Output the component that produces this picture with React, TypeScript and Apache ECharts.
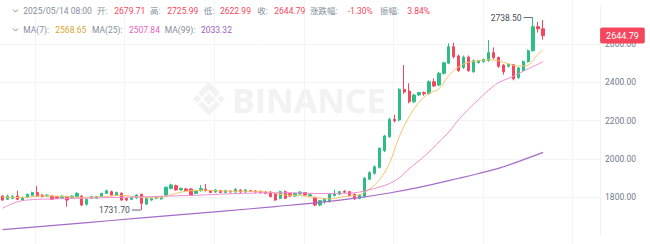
import React, { useEffect, useRef } from "react";
import * as echarts from "echarts";

// ---- Data (4h candles, ETH/USDT) ----
const opens = [
  1805, 1788, 1793, 1805, 1784, 1798, 1809, 1823, 1810, 1805,
  1805, 1802, 1795, 1802, 1797, 1802, 1805, 1762, 1793, 1793,
  1802, 1819, 1828, 1810, 1819, 1793, 1788, 1795, 1814, 1763,
  1784, 1793, 1790, 1810, 1845, 1859, 1837, 1842, 1842, 1819,
  1833, 1842, 1833, 1826, 1833, 1824, 1830, 1826, 1837, 1826,
  1833, 1831, 1830, 1826, 1826, 1816, 1793, 1828, 1819, 1805,
  1816, 1823, 1805, 1798, 1758, 1775, 1778, 1808, 1815, 1830,
  1828, 1814, 1793, 1802, 1893, 1924, 1955, 2042, 2115, 2206,
  2203, 2363, 2354, 2298, 2334, 2346, 2342, 2403, 2386, 2447,
  2500, 2586, 2538, 2478, 2531, 2455, 2503, 2508, 2513, 2555,
  2530, 2490, 2484, 2492, 2425, 2462, 2508, 2566, 2691, 2679.71,
];
const closes = [
  1784, 1805, 1802, 1788, 1798, 1814, 1823, 1805, 1802, 1810,
  1788, 1793, 1805, 1784, 1805, 1819, 1758, 1788, 1802, 1802,
  1819, 1833, 1810, 1823, 1784, 1784, 1795, 1810, 1767, 1793,
  1793, 1802, 1802, 1851, 1863, 1837, 1845, 1833, 1810, 1833,
  1845, 1833, 1824, 1837, 1824, 1833, 1826, 1840, 1826, 1837,
  1830, 1826, 1823, 1819, 1802, 1784, 1828, 1793, 1805, 1819,
  1826, 1810, 1812, 1758, 1781, 1788, 1815, 1815, 1828, 1825,
  1807, 1790, 1810, 1898, 1927, 1958, 2055, 2119, 2206, 2199,
  2363, 2349, 2298, 2333, 2346, 2340, 2403, 2381, 2447, 2502,
  2586, 2534, 2461, 2531, 2461, 2513, 2513, 2520, 2555, 2530,
  2484, 2455, 2492, 2418, 2475, 2508, 2565, 2691, 2679.71, 2644.79,
];
const lows = [
  1780, 1785, 1790, 1784, 1780, 1795, 1805, 1800, 1798, 1800,
  1784, 1790, 1792, 1749, 1793, 1798, 1752, 1755, 1790, 1790,
  1798, 1815, 1806, 1806, 1780, 1778, 1784, 1790, 1731.7, 1758,
  1780, 1788, 1786, 1806, 1840, 1833, 1833, 1828, 1806, 1815,
  1828, 1828, 1820, 1822, 1820, 1820, 1822, 1822, 1822, 1822,
  1826, 1822, 1819, 1815, 1798, 1780, 1788, 1790, 1800, 1800,
  1812, 1806, 1800, 1752, 1752, 1765, 1770, 1802, 1810, 1820,
  1803, 1785, 1788, 1798, 1888, 1918, 1950, 2035, 2110, 2190,
  2195, 2340, 2290, 2292, 2328, 2330, 2335, 2375, 2378, 2440,
  2495, 2525, 2455, 2470, 2455, 2450, 2498, 2503, 2508, 2520,
  2475, 2440, 2478, 2410, 2418, 2455, 2503, 2560, 2660, 2622.99,
];
const highs = [
  1810, 1812, 1810, 1833, 1802, 1818, 1828, 1858, 1815, 1815,
  1810, 1806, 1809, 1806, 1808, 1825, 1810, 1792, 1806, 1805,
  1822, 1838, 1833, 1828, 1825, 1797, 1800, 1814, 1818, 1797,
  1797, 1806, 1805, 1855, 1870, 1865, 1850, 1848, 1846, 1838,
  1863, 1868, 1838, 1842, 1838, 1838, 1835, 1846, 1840, 1842,
  1838, 1836, 1833, 1830, 1830, 1820, 1833, 1835, 1823, 1823,
  1830, 1826, 1816, 1802, 1785, 1795, 1820, 1838, 1832, 1835,
  1832, 1818, 1815, 1905, 1935, 1965, 2060, 2125, 2215, 2230,
  2370, 2490, 2395, 2340, 2350, 2352, 2410, 2420, 2455, 2508,
  2604, 2607, 2545, 2540, 2540, 2520, 2518, 2525, 2621, 2583,
  2535, 2495, 2498, 2496, 2480, 2515, 2572, 2738.5, 2717, 2725.99,
];

// moving averages: [candle index, value]
const ma7Points = [
  [0, 1800], [4, 1797], [8, 1806], [12, 1803], [16, 1798], [20, 1801], [24, 1808],
  [28, 1798], [31, 1795], [34, 1812], [37, 1830], [41, 1835], [45, 1831], [50, 1830],
  [54, 1824], [57, 1810], [60, 1807], [63, 1798], [66, 1790], [69, 1803], [72, 1812],
  [74, 1842], [76, 1890], [78, 1975], [80, 2115], [82, 2220], [84, 2295], [86, 2342],
  [88, 2366], [90, 2435], [92, 2482], [94, 2505], [96, 2513], [98, 2518], [100, 2512],
  [102, 2497], [104, 2485], [105, 2486], [106, 2490], [107, 2515], [108, 2547], [109, 2568.65],
];
const ma25Points = [
  [0, 1741], [3, 1775], [6, 1786], [10, 1790], [15, 1793], [20, 1796], [25, 1799],
  [30, 1802], [35, 1806], [40, 1810], [45, 1816], [50, 1820], [55, 1822], [60, 1821],
  [64, 1818], [68, 1819], [71, 1822], [74, 1838], [76, 1852], [78, 1870], [80, 1900],
  [82, 1948], [84, 1990], [86, 2035], [88, 2088], [90, 2140], [92, 2205], [94, 2260],
  [96, 2310], [98, 2358], [100, 2398], [102, 2420], [104, 2445], [106, 2470], [108, 2495],
  [109, 2507.84],
];
const ma99Points = [
  [0, 1629], [11, 1653], [22, 1677], [33, 1701], [44, 1725], [55, 1750], [64, 1772],
  [72, 1797], [78, 1821], [84, 1850], [88, 1874], [92, 1898], [96, 1923], [100, 1950],
  [104, 1985], [109, 2033.32],
];

const yTicks = [1600, 1800, 2000, 2200, 2400, 2600, 2800];

const GREEN = "#2ebd85";
const RED = "#f6465d";
const GRAY = "#848e9c";
const FONT = "Roboto, 'Noto Sans CJK SC', sans-serif";

const SLOTS = 121;
const pad = (n: number) => String(n).padStart(2, "0");
const categories: string[] = [];
{
  const base = Date.UTC(2025, 3, 26, 4, 0);
  for (let i = 0; i < SLOTS; i++) {
    const d = new Date(base + i * 4 * 3600 * 1000);
    categories.push(
      `${d.getUTCFullYear()}/${pad(d.getUTCMonth() + 1)}/${pad(d.getUTCDate())} ${pad(d.getUTCHours())}:${pad(d.getUTCMinutes())}`
    );
  }
}

export default function App() {
  const ref = useRef<HTMLDivElement>(null);

  useEffect(() => {
    if (!ref.current) return;
    const chart = echarts.init(ref.current, null, { renderer: "svg" });

    const last = closes.length - 1;
    const prevClose = closes[last - 1];
    const chg = ((closes[last] - prevClose) / prevClose) * 100;
    const amp = ((highs[last] - lows[last]) / prevClose) * 100;
    const lastOf = (pts: number[][]) => pts[pts.length - 1][1].toFixed(2);

    const header1: [string, number, string][] = [
      [categories[last], 23.3, GRAY],
      ["开:", 97, GRAY],
      [opens[last].toFixed(2), 114.3, RED],
      ["高:", 150, GRAY],
      [highs[last].toFixed(2), 167.3, RED],
      ["低:", 203.7, GRAY],
      [lows[last].toFixed(2), 220, RED],
      ["收:", 257.3, GRAY],
      [closes[last].toFixed(2), 274.3, RED],
      ["涨跌幅:", 310, GRAY],
      [chg.toFixed(2) + "%", 347.7, chg < 0 ? RED : GREEN],
      ["振幅:", 380, GRAY],
      [amp.toFixed(2) + "%", 407.3, RED],
    ];
    const header2: [string, number, string][] = [
      ["MA(7):", 23.3, GRAY],
      [lastOf(ma7Points), 55.3, "#d9a534"],
      ["MA(25):", 92, GRAY],
      [lastOf(ma25Points), 129, "#ea5fbd"],
      ["MA(99):", 164.7, GRAY],
      [lastOf(ma99Points), 201, "#9b5fc0"],
    ];
    const mkText = (arr: [string, number, string][], y: number) =>
      arr.map(([t, x, c]) => ({
        type: "text",
        x,
        y,
        z: 10,
        style: { text: t, fill: c, fontSize: 8.5, fontFamily: FONT, verticalAlign: "middle" },
      }));

    const WM = "#f2f2f2";
    const watermark = [
      { type: "polygon", shape: { points: [[209, 93], [215, 99], [209, 105], [203, 99]] }, style: { fill: WM } },
      { type: "polygon", shape: { points: [[197, 95], [201, 99], [197, 103], [193, 99]] }, style: { fill: WM } },
      { type: "polygon", shape: { points: [[221, 95], [225, 99], [221, 103], [217, 99]] }, style: { fill: WM } },
      { type: "polygon", shape: { points: [[209, 82], [220, 93], [216, 97], [209, 90], [202, 97], [198, 93]] }, style: { fill: WM } },
      { type: "polygon", shape: { points: [[209, 116], [220, 105], [216, 101], [209, 108], [202, 101], [198, 105]] }, style: { fill: WM } },
      {
        type: "text",
        x: 232,
        y: 100,
        style: { text: "BINANCE", fill: WM, fontSize: 34, fontWeight: 700, fontFamily: "'Open Sans', sans-serif", verticalAlign: "middle" },
      },
    ];

    const splitColors = yTicks.map((v, i) => (i === 0 || i === yTicks.length - 1 ? "rgba(0,0,0,0)" : "#f3f4f6"));

    const option: any = {
      animation: false,
      grid: [
        { left: -2.49, top: 5.83, width: 602.58, height: 229.4 },
        { left: 0, top: 0, width: 597.6, height: 244 },
      ],
      xAxis: [
        {
          type: "category",
          gridIndex: 0,
          data: categories,
          boundaryGap: true,
          axisLine: { show: false },
          axisTick: { show: false },
          axisLabel: { show: false },
          splitLine: { show: false },
        },
        {
          type: "category",
          gridIndex: 1,
          data: categories,
          boundaryGap: false,
          axisLine: { show: false },
          axisTick: { show: false },
          axisLabel: { show: false },
          splitLine: {
            show: true,
            interval: (i: number) => (i - 7) % 18 === 0,
            lineStyle: { color: "#f3f4f6", width: 1 },
          },
        },
      ],
      yAxis: [
        {
          type: "value",
          gridIndex: 0,
          position: "right",
          min: yTicks[0],
          max: yTicks[yTicks.length - 1],
          interval: 200,
          axisLine: { show: true, lineStyle: { color: "#eef0f2" } },
          axisTick: { show: false },
          axisLabel: {
            margin: 5,
            color: "#707a8a",
            fontSize: 8.5,
            fontFamily: FONT,
            showMinLabel: false,
            showMaxLabel: false,
            formatter: (v: number) => v.toFixed(2),
          },
          splitLine: { show: true, lineStyle: { color: splitColors, width: 1 } },
        },
        { type: "value", gridIndex: 1, show: false },
      ],
      graphic: [
        ...watermark,
        { type: "polyline", z: 10, shape: { points: [[13, 9.5], [15.5, 12], [18, 9.5]] }, style: { stroke: GRAY, lineWidth: 1, fill: null } },
        { type: "polyline", z: 10, shape: { points: [[13, 28.5], [15.5, 31], [18, 28.5]] }, style: { stroke: GRAY, lineWidth: 1, fill: null } },
        ...mkText(header1, 11),
        ...mkText(header2, 30),
      ],
      series: [
        {
          type: "candlestick",
          xAxisIndex: 0,
          yAxisIndex: 0,
          z: 2,
          barWidth: 2.8,
          data: opens.map((o, i) => [o, closes[i], lows[i], highs[i]]),
          itemStyle: { color: GREEN, color0: RED, borderColor: GREEN, borderColor0: RED, borderWidth: 1 },
          markPoint: {
            symbol: "rect",
            symbolSize: [9, 1],
            symbolOffset: [-5, 0],
            itemStyle: { color: "#5e6673" },
            label: {
              show: true,
              position: "left",
              distance: 2,
              color: "#474d57",
              fontSize: 8.5,
              fontFamily: FONT,
              formatter: (p: any) => Number(p.value).toFixed(2),
            },
            data: [
              { type: "max", valueDim: "highest" },
              { type: "min", valueDim: "lowest" },
            ],
          },
          markLine: {
            silent: true,
            symbol: ["none", "none"],
            lineStyle: { width: 0, color: "rgba(0,0,0,0)" },
            label: {
              show: true,
              position: "end",
              distance: 0,
              color: "#fff",
              backgroundColor: RED,
              borderRadius: 2,
              padding: [4, 6, 3, 6],
              fontSize: 9,
              fontFamily: FONT,
              formatter: () => closes[last].toFixed(2),
            },
            data: [{ yAxis: closes[last] }],
          },
        },
        {
          type: "line",
          name: "MA7",
          data: ma7Points,
          symbol: "none",
          smooth: 0.4,
          z: 3,
          silent: true,
          lineStyle: { color: "#f2c56b", width: 1 },
        },
        {
          type: "line",
          name: "MA25",
          data: ma25Points,
          symbol: "none",
          smooth: 0.4,
          z: 3,
          silent: true,
          lineStyle: { color: "#f08bd3", width: 1 },
        },
        {
          type: "line",
          name: "MA99",
          data: ma99Points,
          symbol: "none",
          smooth: 0.4,
          z: 3,
          silent: true,
          lineStyle: { color: "#a56bc9", width: 1.2 },
        },
      ],
    };

    chart.setOption(option);
    return () => chart.dispose();
  }, []);

  return (
    <div
      ref={ref}
      style={{ position: "fixed", left: 0, top: 0, width: 650, height: 244, background: "#fff" }}
    />
  );
}
